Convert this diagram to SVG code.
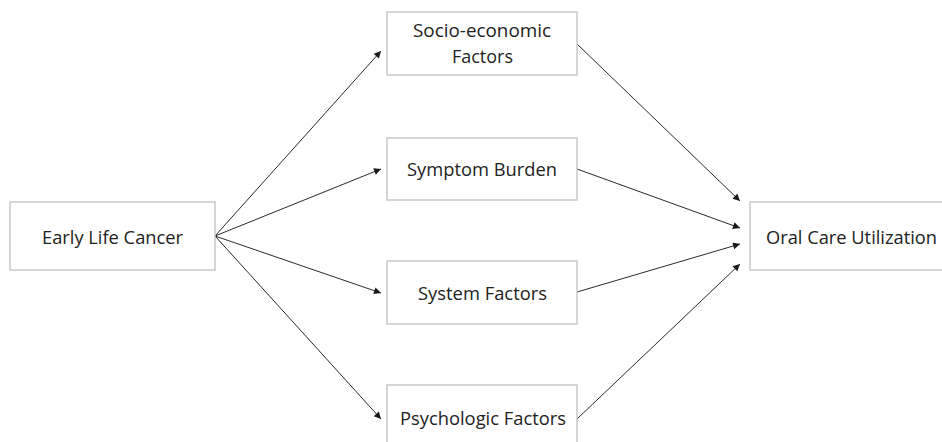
<svg xmlns="http://www.w3.org/2000/svg" width="942" height="442" viewBox="0 0 942 442">
<style>
.box{fill:#fff;stroke:#c8c8c8;stroke-width:1.5}
.lbl{font-family:"Open Sans","Liberation Sans",sans-serif;font-size:19px;fill:#222}
.edge{stroke:#2a2a2a;stroke-width:1;fill:none;marker-end:url(#ah)}
</style>
<defs>
<marker id="ah" viewBox="0 0 10 10" refX="10" refY="5" markerWidth="9" markerHeight="7" markerUnits="userSpaceOnUse" orient="auto">
<path d="M0,0 L10,5 L0,10 z" fill="#1a1a1a"/>
</marker>
</defs>
<rect width="942" height="442" fill="#fff"/>
<g id="connectors">
<line class="edge" x1="215" y1="236" x2="381" y2="51"/>
<line class="edge" x1="215" y1="236" x2="381" y2="169"/>
<line class="edge" x1="215" y1="236" x2="381" y2="293"/>
<line class="edge" x1="215" y1="236" x2="381" y2="419"/>
<line class="edge" x1="577" y1="44" x2="740" y2="201"/>
<line class="edge" x1="577" y1="169" x2="740" y2="228"/>
<line class="edge" x1="577" y1="292" x2="740" y2="244"/>
<line class="edge" x1="577" y1="419" x2="740" y2="264"/>
</g>
<g id="early-life-cancer">
<rect class="box" x="10" y="202" width="205" height="68"/>
<text class="lbl" x="42" y="244" textLength="141" lengthAdjust="spacingAndGlyphs">Early Life Cancer</text>
</g>
<g id="socio-economic">
<rect class="box" x="387" y="12" width="190" height="63"/>
<text class="lbl" x="413" y="37" textLength="138" lengthAdjust="spacingAndGlyphs">Socio-economic</text>
<text class="lbl" x="452" y="63" textLength="61" lengthAdjust="spacingAndGlyphs">Factors</text>
</g>
<g id="symptom-burden">
<rect class="box" x="387" y="138" width="190" height="62"/>
<text class="lbl" x="407" y="176" textLength="150" lengthAdjust="spacingAndGlyphs">Symptom Burden</text>
</g>
<g id="system-factors">
<rect class="box" x="387" y="261" width="190" height="63"/>
<text class="lbl" x="418" y="300" textLength="129" lengthAdjust="spacingAndGlyphs">System Factors</text>
</g>
<g id="psychologic-factors">
<rect class="box" x="387" y="385" width="190" height="70"/>
<text class="lbl" x="400" y="425" textLength="166" lengthAdjust="spacingAndGlyphs">Psychologic Factors</text>
</g>
<g id="oral-care-utilization">
<rect class="box" x="750" y="202" width="200" height="68"/>
<text class="lbl" x="766" y="244" textLength="171" lengthAdjust="spacingAndGlyphs">Oral Care Utilization</text>
</g>
</svg>
